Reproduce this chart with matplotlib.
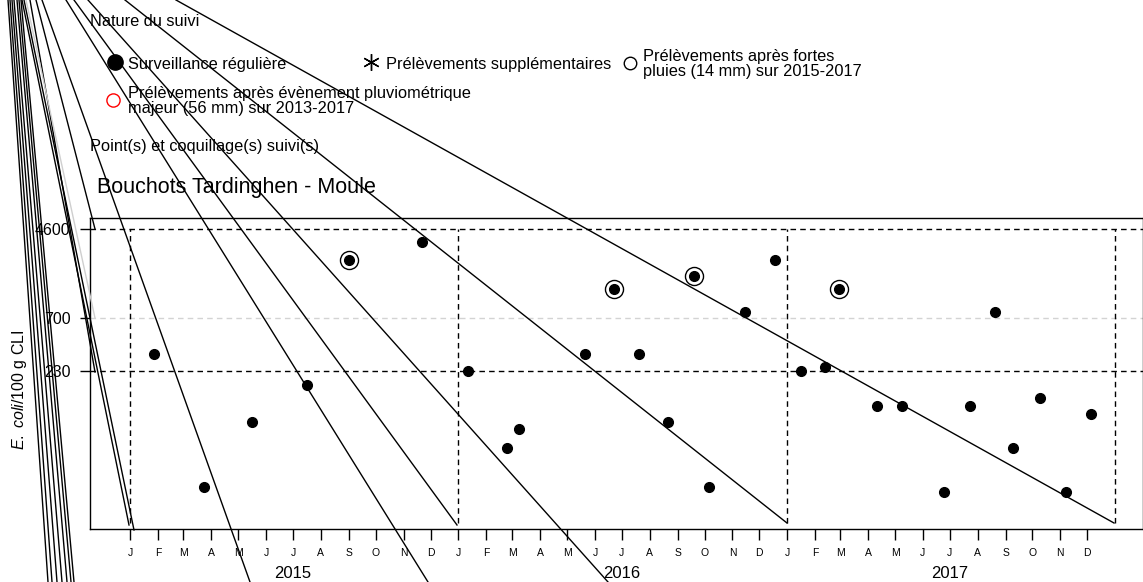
import matplotlib
matplotlib.use("Agg")
import matplotlib.pyplot as plt
import numpy as np
import datetime as dt

plt.rcParams['font.family'] = ['Liberation Sans', 'DejaVu Sans']
plt.rcParams['mathtext.fontset'] = 'custom'
plt.rcParams['mathtext.it'] = 'Liberation Sans:italic'
plt.rcParams['mathtext.rm'] = 'Liberation Sans'

# ---- data ----
dates = ["2015-01-27", "2015-03-24", "2015-05-16", "2015-07-17", "2015-09-01", "2015-11-22",
         "2016-01-12", "2016-02-24", "2016-03-09", "2016-05-21", "2016-06-22", "2016-07-20",
         "2016-08-21", "2016-09-19", "2016-10-06", "2016-11-15", "2016-12-18",
         "2017-01-16", "2017-02-12", "2017-02-28", "2017-04-11", "2017-05-09", "2017-06-24",
         "2017-07-24", "2017-08-20", "2017-09-09", "2017-10-09", "2017-11-07", "2017-12-05"]
values = [330, 20, 78, 170, 2400, 3500,
          230, 45, 68, 330, 1300, 330,
          78, 1700, 20, 790, 2400,
          230, 250, 1300, 110, 110, 18,
          110, 790, 45, 130, 18, 93]
heavy_rain = [0, 0, 0, 0, 1, 0,
              0, 0, 0, 0, 1, 0,
              0, 1, 0, 0, 0,
              0, 0, 1, 0, 0, 0,
              0, 0, 0, 0, 0, 0]
thresholds = [230, 4600]
threshold_grey = [700]
year_starts = ["2015-01-01", "2016-01-01", "2017-01-01", "2018-01-01"]
years = ["2015", "2016", "2017"]
month_letters = ["J", "F", "M", "A", "M", "J", "J", "A", "S", "O", "N", "D"]

# stray rendering strokes seen in the source image (figure pixels, y from top)
stray_black = [((176, 0), (1114, 523)), ((125, 0), (787, 523)), ((74, 0), (457, 525)),
               ((66, 0), (428, 582)), ((88, 0), (608, 582)), ((42, 0), (250, 582)),
               ((36, 0), (95, 229)), ((30, 0), (95, 372)), ((22, 0), (129, 525)),
               ((24, 0), (134, 530)),
               ((8, 0), (48, 582)), ((10, 0), (52, 582)), ((12, 0), (57, 582)),
               ((14, 0), (62, 582)), ((17, 0), (67, 582)), ((19, 0), (71, 582)),
               ((21, 0), (74, 582))]
stray_grey = [((26, 0), (95, 318))]

d = [dt.datetime.strptime(s, "%Y-%m-%d") for s in dates]
hr = np.array(heavy_rain, dtype=bool)
vals = np.array(values, dtype=float)

W, H = 1143, 582
fig = plt.figure(figsize=(W / 100, H / 100), dpi=100)
L, R, T, B = 90, 1143, 218, 529
ax = fig.add_axes([L / W, 1 - B / H, (R - L) / W, (B - T) / H])
ax.set_yscale('log')
ax.set_xlim(dt.datetime(2014, 11, 17), dt.datetime(2018, 2, 1))
ax.set_ylim(8.2, 5800)

dash = (0, (4, 3))
for t in thresholds:
    ax.axhline(t, color='black', lw=1, ls=dash, zorder=1)
for t in threshold_grey:
    ax.axhline(t, color='#d3d3d3', lw=1, ls=dash, zorder=1)
for ys in year_starts:
    x = dt.datetime.strptime(ys, "%Y-%m-%d")
    ax.plot([x, x], [9.4, 4600], color='black', lw=1, ls=dash, zorder=1)

ax.plot(d, vals, 'o', color='black', ms=7, zorder=3, ls='none')
ax.plot(np.array(d)[hr], vals[hr], 'o', mfc='none', mec='black', mew=1, ms=13, zorder=3, ls='none')

for s in ax.spines.values():
    s.set_linewidth(1)
ax.set_yticks([230, 700, 4600])
ax.set_yticklabels(["230", "700", "4600"])
ax.yaxis.set_minor_locator(matplotlib.ticker.NullLocator())
ax.tick_params(axis='y', length=7.2, width=1, pad=7, labelsize=11.5)

ticks = []
labels = []
for y in [2015, 2016, 2017]:
    for m in range(1, 13):
        ticks.append(dt.datetime(y, m, 1))
        labels.append(month_letters[m - 1])
ax.set_xticks(ticks)
ax.set_xticklabels(labels)
ax.xaxis.set_minor_locator(matplotlib.ticker.NullLocator())
ax.tick_params(axis='x', length=8, width=1, pad=6, labelsize=7.5)

for y in years:
    ax.text(dt.datetime(int(y), 7, 1), -0.143, y, transform=ax.get_xaxis_transform(),
            ha='center', va='center', fontsize=12, clip_on=False)

fig.text(20 / W, 1 - 390 / H, r"$\mathit{E.\ coli}$/100 g CLI", rotation=90,
         ha='center', va='center', fontsize=11.5)

# ---- header / legend (figure coordinates in pixels) ----
ov = fig.add_axes([0, 0, 1, 1], facecolor='none')
ov.set_xlim(0, W)
ov.set_ylim(H, 0)
ov.axis('off')
for (x0, y0), (x1, y1) in stray_black:
    ov.plot([x0, x1], [y0, y1], color='black', lw=1, zorder=0.5)
for (x0, y0), (x1, y1) in stray_grey:
    ov.plot([x0, x1], [y0, y1], color='#cfcfcf', lw=1, zorder=0.5)

fs = 11.8
ov.text(90, 22, "Nature du suivi", fontsize=fs, va='center', ha='left')
ov.plot([115], [62], 'o', color='black', ms=11)
ov.text(128, 64, "Surveillance régulière", fontsize=fs, va='center', ha='left')
ov.plot([371], [62], marker=(6, 2, 0), color='black', ms=12, mew=1)
ov.text(386, 64, "Prélèvements supplémentaires", fontsize=fs, va='center', ha='left')
ov.plot([630], [63], 'o', mfc='none', mec='black', ms=9, mew=1)
ov.text(643, 64, "Prélèvements après fortes\npluies (14 mm) sur 2015-2017", fontsize=fs,
        va='center', ha='left', linespacing=0.98)
ov.plot([113], [100], 'o', mfc='none', mec='red', ms=9.5, mew=1)
ov.text(128, 101, "Prélèvements après évènement pluviométrique\nmajeur (56 mm) sur 2013-2017",
        fontsize=fs, va='center', ha='left', linespacing=0.98)
ov.text(90, 147, "Point(s) et coquillage(s) suivi(s)", fontsize=fs, va='center', ha='left')
ov.text(97, 188, "Bouchots Tardinghen - Moule", fontsize=15.5, va='center', ha='left')

fig.savefig("out.png", dpi=100)
